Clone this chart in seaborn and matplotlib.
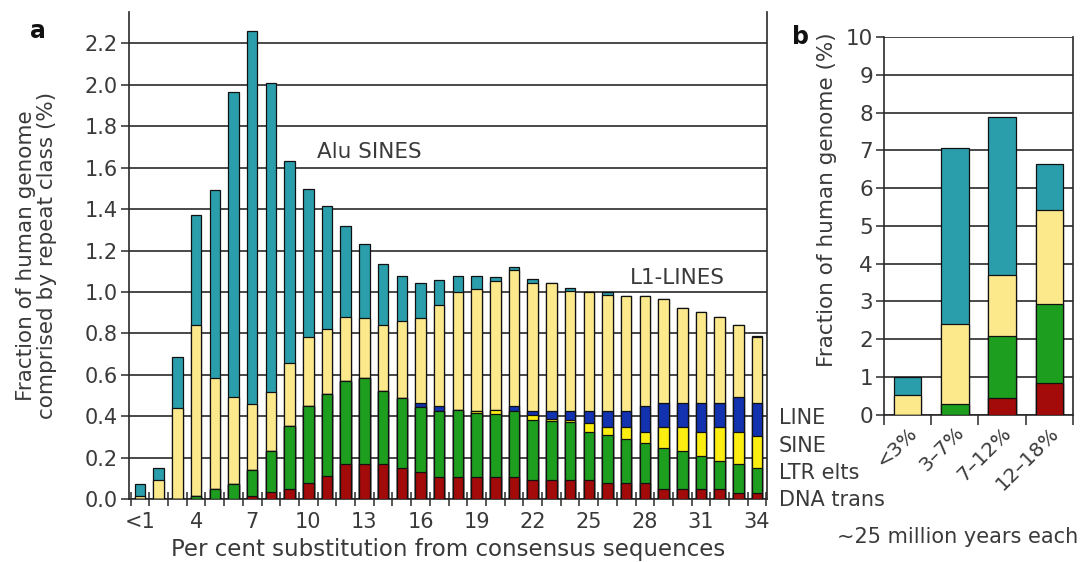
import numpy as np
import pandas as pd
import matplotlib
matplotlib.use("Agg")
import matplotlib.pyplot as plt
import seaborn as sns

# ---------------- data (panel a) ----------------
bins = ["<1"] + [str(i) for i in range(2, 35)]
dna_trans = [0, 0, 0, 0, 0, 0, 0.016, 0.034, 0.05, 0.077, 0.11, 0.169, 0.169, 0.169, 0.15, 0.134,
             0.106, 0.106, 0.106, 0.106, 0.106, 0.094, 0.094, 0.094, 0.094, 0.077, 0.077, 0.077,
             0.048, 0.048, 0.048, 0.048, 0.032, 0.032]
ltr_elts = [0, 0, 0, 0.015, 0.052, 0.074, 0.123, 0.200, 0.302, 0.371, 0.398, 0.40, 0.416, 0.355,
            0.339, 0.31, 0.32, 0.323, 0.31, 0.307, 0.32, 0.29, 0.282, 0.277, 0.233, 0.234, 0.215,
            0.197, 0.199, 0.183, 0.163, 0.139, 0.137, 0.118]
sine_old = [0, 0, 0, 0, 0, 0, 0, 0, 0, 0, 0, 0, 0, 0, 0, 0, 0, 0, 0.011, 0.016, 0, 0.024, 0.013,
            0.013, 0.041, 0.037, 0.056, 0.049, 0.101, 0.117, 0.112, 0.161, 0.154, 0.156]
line_old = [0, 0, 0, 0, 0, 0, 0, 0, 0, 0, 0, 0, 0, 0, 0, 0.021, 0.022, 0, 0, 0, 0.022, 0.019,
            0.038, 0.043, 0.059, 0.079, 0.079, 0.125, 0.117, 0.117, 0.142, 0.117, 0.169, 0.159]
l1_lines = [0.015, 0.094, 0.44, 0.824, 0.533, 0.418, 0.322, 0.285, 0.306, 0.334, 0.316, 0.31,
            0.291, 0.316, 0.371, 0.411, 0.487, 0.571, 0.589, 0.624, 0.658, 0.615, 0.618, 0.578,
            0.573, 0.557, 0.553, 0.532, 0.5, 0.456, 0.44, 0.414, 0.348, 0.319]
alu_sines = [0.059, 0.059, 0.247, 0.532, 0.907, 1.473, 1.797, 1.489, 0.972, 0.713, 0.592, 0.439,
             0.354, 0.295, 0.217, 0.166, 0.123, 0.077, 0.061, 0.021, 0.017, 0.019, 0, 0.013, 0,
             0.016, 0, 0, 0, 0, 0, 0, 0, 0.006]
xtick_labels_a = ["<1", "4", "7", "10", "13", "16", "19", "22", "25", "28", "31", "34"]

# ---------------- data (panel b) ----------------
age_bins = ["<3%", "3\u20137%", "7\u201312%", "12\u201318%"]
b_dna = [0, 0, 0.45, 0.84]
b_ltr = [0, 0.285, 1.64, 2.10]
b_l1 = [0.51, 2.125, 1.60, 2.49]
b_alu = [0.48, 4.65, 4.18, 1.20]

# ---------------- styling ----------------
sns.set_style("white")
plt.rcParams["font.family"] = ["DejaVu Sans"]
TXT = "#3a3a3a"
LN = "#2a2a2a"
C_ALU = "#2b9eab"
C_L1 = "#fbe98c"
C_LINE = "#1232b0"
C_SINE = "#fcee10"
C_LTR = "#1e9e1e"
C_DNA = "#a30a0a"

fig = plt.figure(figsize=(10.84, 5.62), dpi=100)
W, H = 1084, 562
ax_a = fig.add_axes([129 / W, 1 - 499.3 / H, (767 - 129) / W, (499.3 - 12) / H])
ax_b = fig.add_axes([884 / W, 1 - 414.7 / H, (1073 - 884) / W, (414.7 - 37) / H])


def stacked(ax, cats, layers, colors, width):
    cum = np.cumsum(np.array(layers, dtype=float), axis=0)
    for i in range(len(layers) - 1, -1, -1):
        df = pd.DataFrame({"cat": cats, "val": cum[i]})
        sns.barplot(data=df, x="cat", y="val", order=cats, color=colors[i], saturation=1,
                    edgecolor="#111111", linewidth=0.9, width=width, errorbar=None, ax=ax,
                    zorder=3)


stacked(ax_a, bins, [dna_trans, ltr_elts, sine_old, line_old, l1_lines, alu_sines],
        [C_DNA, C_LTR, C_SINE, C_LINE, C_L1, C_ALU], 0.56)
stacked(ax_b, age_bins, [b_dna, b_ltr, b_l1, b_alu], [C_DNA, C_LTR, C_L1, C_ALU], 0.58)

# ---------------- panel a axes ----------------
ax_a.set_xlim(-0.59, 33.53)
ax_a.set_ylim(0, 2.351)
ax_a.set_yticks(np.arange(0, 2.21, 0.2))
ax_a.set_yticklabels([f"{v:.1f}" for v in np.arange(0, 2.21, 0.2)], fontsize=15, color=TXT)
ax_a.set_xticks(range(0, 34, 3))
ax_a.set_xticklabels(xtick_labels_a, fontsize=15, color=TXT)
ax_a.set_xticks(np.arange(-0.5, 34, 1.0), minor=True)
ax_a.tick_params(axis="x", which="major", length=0, pad=9)
ax_a.tick_params(axis="x", which="minor", direction="inout", length=10, width=1.1, color=LN,
                 bottom=True)
ax_a.tick_params(axis="y", which="major", direction="out", length=6, width=1.1, color=LN,
                 pad=2, left=True)
ax_a.yaxis.grid(True, color=LN, linewidth=1.2)
ax_a.xaxis.grid(False)
ax_a.set_axisbelow(True)
for s in ["left", "right", "bottom"]:
    ax_a.spines[s].set_visible(True)
    ax_a.spines[s].set_color(LN)
    ax_a.spines[s].set_linewidth(1.2)
ax_a.spines["top"].set_visible(False)
ax_a.set_xlabel("Per cent substitution from consensus sequences", fontsize=16.5, color=TXT)
ax_a.xaxis.set_label_coords(0.5, -0.08)
ax_a.xaxis.label.set_va("top")
ax_a.set_ylabel("Fraction of human genome\ncomprised by repeat class (%)", fontsize=15.5,
                color=TXT, linespacing=1.05)
ax_a.yaxis.set_label_coords(-0.145, 0.5)
ax_a.yaxis.label.set_va("center")

ax_a.text(9.45, 1.675, "Alu SINES", fontsize=15.5, color=TXT, ha="left", va="center")
ax_a.text(26.2, 1.068, "L1-LINES", fontsize=15.5, color=TXT, ha="left", va="center")

# ---------------- panel b axes ----------------
ax_b.set_xlim(-0.5, 3.5)
ax_b.set_ylim(0, 10)
ax_b.set_yticks(range(0, 11))
ax_b.set_yticklabels([str(v) for v in range(0, 11)], fontsize=15.5, color=TXT)
ax_b.set_xticks(range(4))
ax_b.set_xticklabels(age_bins, fontsize=14.5, color=TXT, rotation=45, ha="right",
                     rotation_mode="anchor")
ax_b.set_xticks(np.arange(-0.5, 4, 1.0), minor=True)
ax_b.tick_params(axis="x", which="major", length=0, pad=6)
ax_b.tick_params(axis="x", which="minor", direction="out", length=7, width=1.1, color=LN,
                 bottom=True)
ax_b.tick_params(axis="y", which="major", direction="out", length=6, width=1.1, color=LN,
                 pad=2, left=True)
ax_b.yaxis.grid(True, color=LN, linewidth=1.2)
ax_b.xaxis.grid(False)
ax_b.set_axisbelow(True)
for s in ["left", "right", "bottom"]:
    ax_b.spines[s].set_visible(True)
    ax_b.spines[s].set_color(LN)
    ax_b.spines[s].set_linewidth(1.2)
ax_b.spines["top"].set_visible(False)
ax_b.set_xlabel("")
ax_b.set_ylabel("Fraction of human genome (%)", fontsize=15.5, color=TXT)
ax_b.yaxis.set_label_coords(-0.30, 0.57)
ax_b.yaxis.label.set_va("center")

# ---------------- figure texts ----------------
fig.text(38 / W, 1 - 31 / H, "a", fontsize=17, fontweight="bold", color="#111111",
         ha="center", va="center")
fig.text(801 / W, 1 - 37 / H, "b", fontsize=17, fontweight="bold", color="#111111",
         ha="center", va="center")
for lab, yy in [("LINE", 418), ("SINE", 446), ("LTR elts", 473), ("DNA trans", 500)]:
    fig.text(779 / W, 1 - yy / H, lab, fontsize=15, color=TXT, ha="left", va="center")
fig.text(958 / W, 1 - 537 / H, "~25 million years each", fontsize=15, color=TXT,
         ha="center", va="center")

fig.savefig("out.png", dpi=100)
